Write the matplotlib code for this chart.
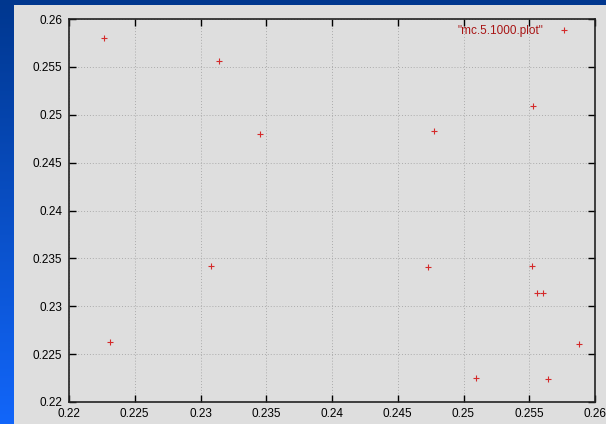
import numpy as np
import matplotlib
matplotlib.use("Agg")
import matplotlib.pyplot as plt
from matplotlib.patches import Rectangle
from matplotlib.ticker import FuncFormatter, MultipleLocator

# Monte Carlo sample points
x_vals = [0.22266, 0.23143, 0.23455, 0.2308, 0.2231, 0.24776, 0.2473,
          0.25529, 0.2552, 0.25559, 0.25607, 0.25878, 0.25645, 0.25097]
y_vals = [0.25805, 0.25558, 0.24796, 0.23420, 0.22627, 0.24830, 0.2341,
          0.25091, 0.23424, 0.23135, 0.23135, 0.22603, 0.22237, 0.22247]
series_label = '"mc.5.1000.plot"'

plt.rcParams['font.family'] = ['Liberation Sans', 'DejaVu Sans']

W, H = 606, 424
fig = plt.figure(figsize=(W / 100, H / 100), dpi=100)

# Slide background: vertical blue gradient
bg = fig.add_axes([0, 0, 1, 1])
bg.set_axis_off()
grad = np.linspace(0, 1, 256).reshape(-1, 1)
top = np.array([0x00, 0x37, 0x8f]) / 255
bot = np.array([0x12, 0x66, 0xfa]) / 255
img = top + (bot - top) * grad[..., None]
bg.imshow(img, aspect='auto', extent=[0, 1, 0, 1], origin='upper')
bg.set_xlim(0, 1)
bg.set_ylim(0, 1)
bg.add_patch(Rectangle((14 / W, 0), 1 - 14 / W, 1 - 5 / H,
                       facecolor='#dedede', edgecolor='none'))

ax = fig.add_axes([69 / W, 22 / H, 526 / W, 383 / H])
ax.set_facecolor('#dedede')
ax.plot(x_vals, y_vals, linestyle='none', marker='+', markersize=4.5,
        markeredgewidth=0.8, color='#d42a2a', label=series_label)

ax.set_xlim(0.22, 0.26)
ax.set_ylim(0.22, 0.26)
ax.xaxis.set_major_locator(MultipleLocator(0.005))
ax.yaxis.set_major_locator(MultipleLocator(0.005))
fmt = FuncFormatter(lambda v, p: '%g' % round(v, 4))
ax.xaxis.set_major_formatter(fmt)
ax.yaxis.set_major_formatter(fmt)
ax.tick_params(direction='in', length=5, width=1.0, top=True, right=True,
               labelsize=8.5, colors='black', pad=5)
ax.tick_params(axis='x', pad=4)

ax.grid(True, linestyle=(0, (1, 2)), color='#ababab', linewidth=0.7)
for s in ax.spines.values():
    s.set_linewidth(1.2)
    s.set_color('#222222')

leg = ax.legend(loc='upper right', bbox_to_anchor=(1 - 17 / 526, 1 + 2 / 383),
                frameon=False, markerfirst=False,
                fontsize=8.5, labelcolor='#a81414', handlelength=1.0,
                handletextpad=1.2, borderaxespad=0.3)

fig.savefig('out.png', dpi=100)
